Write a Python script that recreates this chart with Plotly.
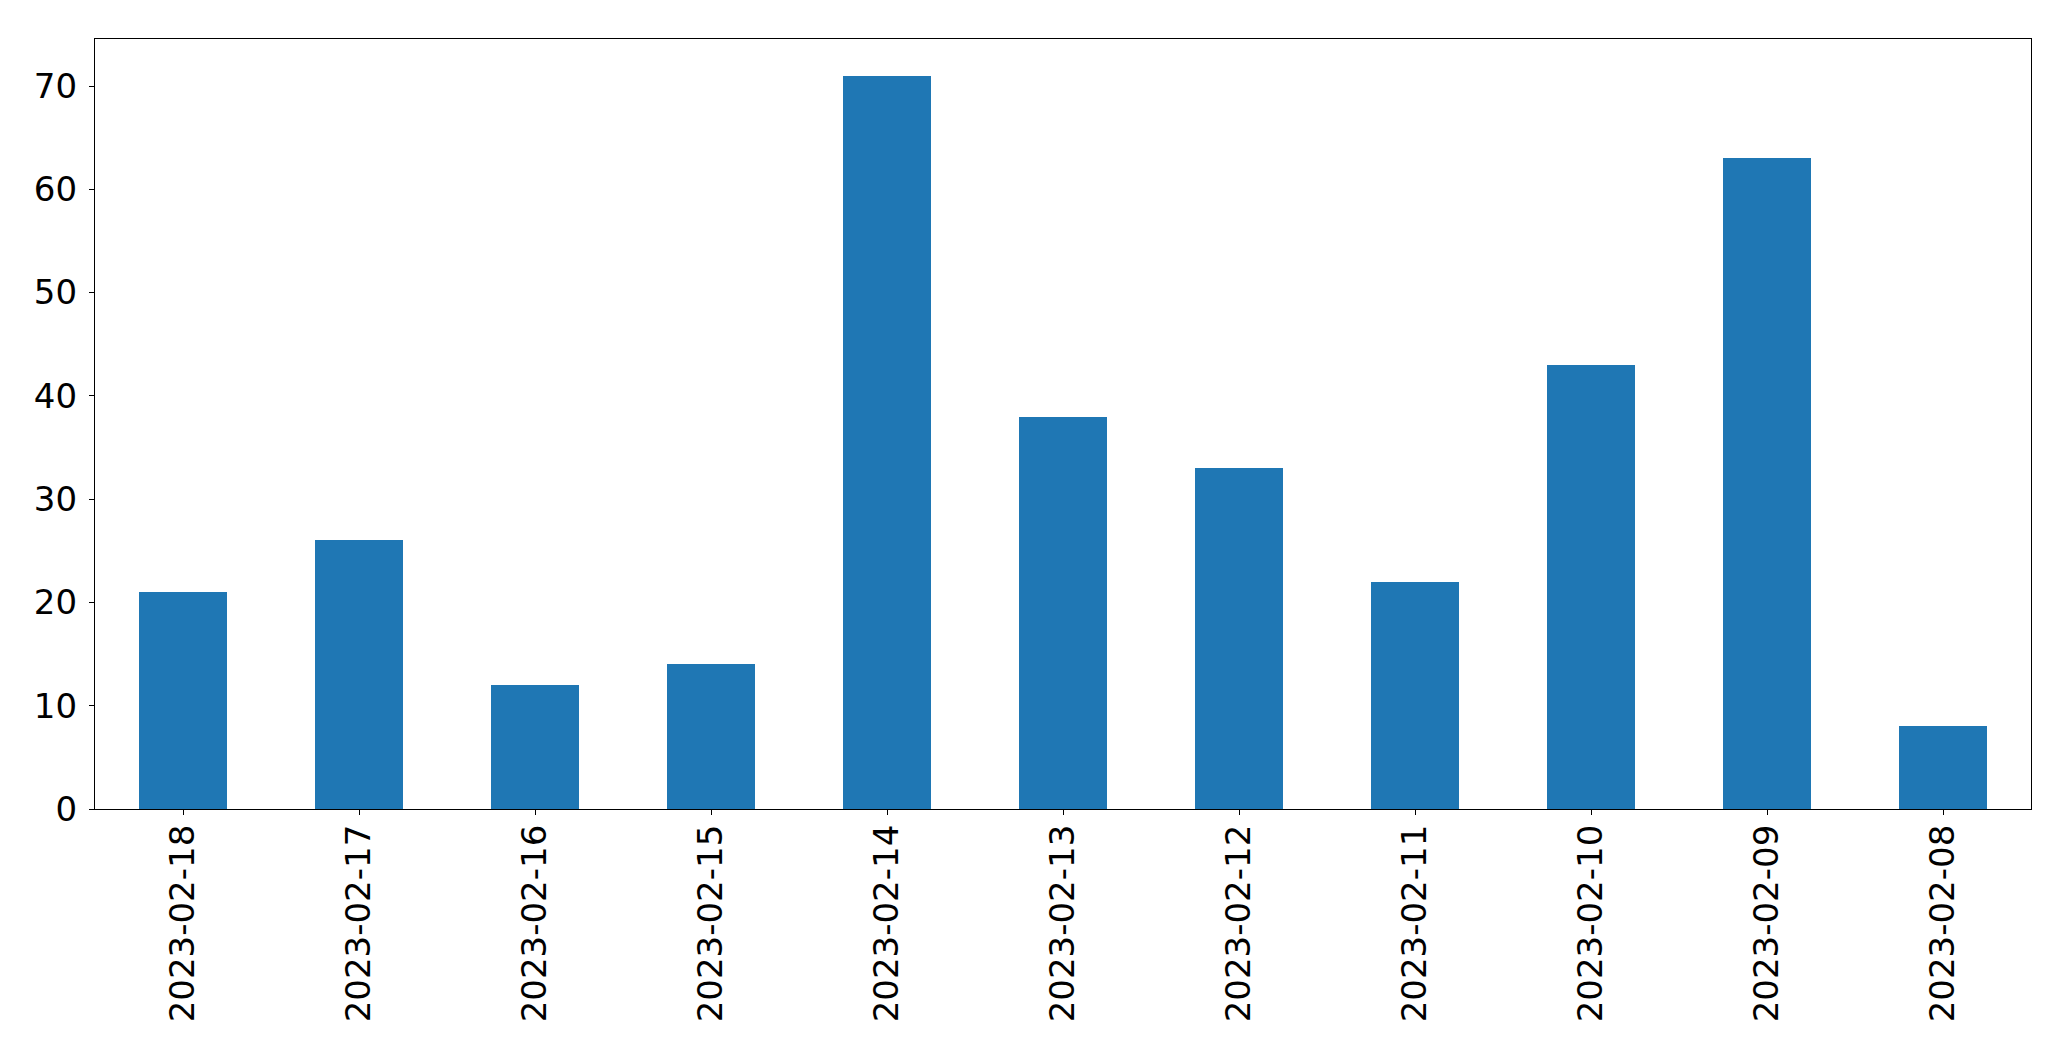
import plotly.graph_objects as go

dates = ["2023-02-18", "2023-02-17", "2023-02-16", "2023-02-15", "2023-02-14",
         "2023-02-13", "2023-02-12", "2023-02-11", "2023-02-10", "2023-02-09", "2023-02-08"]
counts = [21, 26, 12, 14, 71, 38, 33, 22, 43, 63, 8]
y_ticks = [0, 10, 20, 30, 40, 50, 60, 70]

fig = go.Figure(go.Bar(x=dates, y=counts, width=0.5, marker=dict(color="#1f77b4", line=dict(width=0))))

font = dict(family="DejaVu Sans", size=34, color="black")
fig.update_layout(
    width=2071, height=1061,
    margin=dict(l=95, r=40, t=39, b=252, pad=0),
    paper_bgcolor="white", plot_bgcolor="white",
    font=font, showlegend=False, bargap=0,
)
fig.update_xaxes(
    type="category", categoryorder="array", categoryarray=dates,
    range=[-0.5, len(dates) - 0.5], tickangle=-90,
    showline=True, linecolor="black", linewidth=1.3, mirror=True,
    ticks="outside", ticklen=5, tickwidth=1.3, tickcolor="black",
    showgrid=False, zeroline=False, tickfont=font, ticklabelstandoff=-4,
)
fig.update_yaxes(
    range=[0, 74.55], tickvals=y_ticks, ticktext=[str(v) for v in y_ticks],
    showline=True, linecolor="black", linewidth=1.3, mirror=True,
    ticks="outside", ticklen=5, tickwidth=1.3, tickcolor="black",
    showgrid=False, zeroline=False, tickfont=font, ticklabelstandoff=5,
)
fig.write_html("out.html", config={"displayModeBar": False},
               post_script="document.body.style.margin='0';document.body.style.overflow='hidden';")
